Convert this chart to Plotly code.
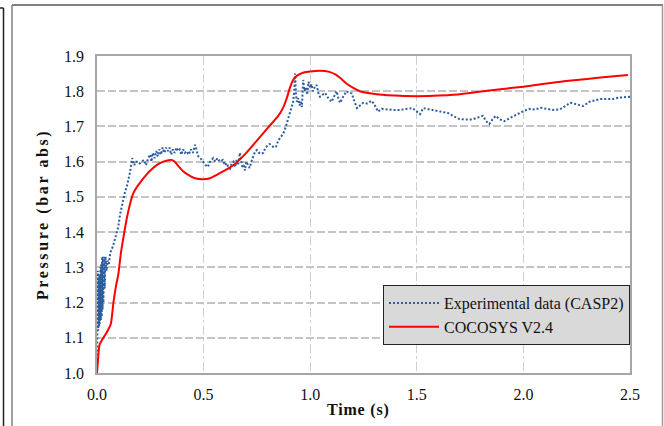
import plotly.graph_objects as go

# Experimental data (CASP2)
exp_t = [0.000, 0.002, 0.004, 0.006, 0.008, 0.010, 0.012, 0.014, 0.016, 0.018, 0.020, 0.022, 0.024, 0.026,
         0.028, 0.030, 0.033, 0.036, 0.040, 0.045, 0.050, 0.056, 0.062, 0.068, 0.075, 0.084, 0.092, 0.100,
         0.108, 0.115, 0.122, 0.130, 0.140, 0.148, 0.155, 0.160, 0.165, 0.170, 0.175, 0.180, 0.190, 0.200,
         0.210, 0.220, 0.230, 0.240, 0.250, 0.255, 0.262, 0.270, 0.278, 0.285, 0.292, 0.300, 0.308, 0.316,
         0.324, 0.332, 0.340, 0.348, 0.356, 0.364, 0.372, 0.380, 0.388, 0.396, 0.404, 0.412, 0.420, 0.430,
         0.440, 0.450, 0.460, 0.468, 0.475, 0.485, 0.497, 0.510, 0.520, 0.530, 0.545, 0.555, 0.565, 0.577,
         0.590, 0.600, 0.608, 0.616, 0.624, 0.632, 0.640, 0.648, 0.655, 0.662, 0.670, 0.676, 0.682, 0.688,
         0.694, 0.700, 0.708, 0.716, 0.724, 0.732, 0.741, 0.750, 0.760, 0.770, 0.780, 0.790, 0.800, 0.810,
         0.820, 0.830, 0.840, 0.850, 0.862, 0.874, 0.886, 0.896, 0.905, 0.913, 0.920, 0.925, 0.929, 0.933,
         0.938, 0.944, 0.950, 0.956, 0.961, 0.967, 0.973, 0.980, 0.986, 0.992, 1.000, 1.006, 1.013, 1.020,
         1.030, 1.040, 1.046, 1.058, 1.070, 1.085, 1.100, 1.112, 1.124, 1.132, 1.140, 1.155, 1.170, 1.182,
         1.195, 1.208, 1.220, 1.235, 1.248, 1.268, 1.288, 1.303, 1.318, 1.335, 1.350, 1.385, 1.420, 1.450,
         1.480, 1.505, 1.515, 1.530, 1.560, 1.590, 1.620, 1.646, 1.670, 1.700, 1.730, 1.760, 1.785, 1.810,
         1.825, 1.840, 1.855, 1.870, 1.890, 1.910, 1.940, 1.980, 2.005, 2.030, 2.055, 2.080, 2.110, 2.140,
         2.170, 2.200, 2.220, 2.250, 2.280, 2.310, 2.340, 2.360, 2.390, 2.420, 2.450, 2.480, 2.500]
exp_p = [1.004, 1.20, 1.29, 1.12, 1.27, 1.13, 1.28, 1.14, 1.30, 1.15, 1.31, 1.16, 1.33, 1.18,
         1.33, 1.20, 1.33, 1.24, 1.33, 1.29, 1.32, 1.31, 1.34, 1.35, 1.36, 1.38, 1.40, 1.415,
         1.45, 1.47, 1.49, 1.51, 1.53, 1.55, 1.57, 1.59, 1.61, 1.60, 1.59, 1.60, 1.60, 1.595,
         1.60, 1.605, 1.59, 1.61, 1.62, 1.60, 1.625, 1.61, 1.63, 1.615, 1.635, 1.62, 1.64, 1.625,
         1.64, 1.63, 1.64, 1.62, 1.635, 1.625, 1.64, 1.63, 1.635, 1.62, 1.635, 1.625, 1.63, 1.62,
         1.635, 1.625, 1.648, 1.63, 1.615, 1.61, 1.60, 1.59, 1.585, 1.60, 1.61, 1.60, 1.61, 1.60,
         1.605, 1.59, 1.596, 1.585, 1.58, 1.595, 1.60, 1.585, 1.605, 1.59, 1.625, 1.60, 1.585, 1.59,
         1.575, 1.60, 1.59, 1.582, 1.60, 1.615, 1.628, 1.633, 1.625, 1.622, 1.625, 1.64, 1.645, 1.65,
         1.645, 1.64, 1.643, 1.66, 1.67, 1.68, 1.70, 1.72, 1.74, 1.756, 1.77, 1.80, 1.85, 1.79,
         1.77, 1.78, 1.76, 1.77, 1.755, 1.832, 1.80, 1.81, 1.79, 1.827, 1.81, 1.82, 1.80, 1.81,
         1.818, 1.79, 1.784, 1.79, 1.795, 1.78, 1.77, 1.785, 1.80, 1.78, 1.767, 1.785, 1.80, 1.795,
         1.794, 1.77, 1.752, 1.76, 1.767, 1.765, 1.773, 1.76, 1.742, 1.75, 1.749, 1.747, 1.747, 1.75,
         1.752, 1.74, 1.735, 1.752, 1.748, 1.745, 1.74, 1.738, 1.73, 1.721, 1.72, 1.72, 1.725, 1.73,
         1.715, 1.707, 1.72, 1.73, 1.72, 1.715, 1.725, 1.738, 1.745, 1.75, 1.748, 1.753, 1.75, 1.747,
         1.748, 1.758, 1.767, 1.763, 1.758, 1.77, 1.775, 1.778, 1.778, 1.778, 1.782, 1.782, 1.784]

# COCOSYS V2.4
sim_t = [0.0, 0.005, 0.012, 0.03, 0.05, 0.065, 0.077, 0.09, 0.1, 0.112, 0.124, 0.14, 0.155, 0.17,
         0.186, 0.21, 0.23, 0.249, 0.28, 0.311, 0.335, 0.35, 0.365, 0.385, 0.405, 0.43, 0.46, 0.499,
         0.53, 0.56, 0.60, 0.65, 0.70, 0.75, 0.80, 0.85, 0.872, 0.89, 0.905, 0.92, 0.94, 0.97, 1.0,
         1.046, 1.09, 1.12, 1.14, 1.17, 1.2, 1.233, 1.28, 1.35, 1.42, 1.5, 1.58, 1.656, 1.75, 1.85,
         2.0, 2.1, 2.2, 2.3, 2.4, 2.49]
sim_p = [1.0, 1.04, 1.08, 1.10, 1.12, 1.14, 1.20, 1.25, 1.28, 1.34, 1.385, 1.44, 1.48, 1.51,
         1.527, 1.547, 1.562, 1.574, 1.59, 1.60, 1.604, 1.605, 1.60, 1.585, 1.572, 1.562, 1.553, 1.55,
         1.553, 1.562, 1.575, 1.595, 1.625, 1.66, 1.695, 1.73, 1.752, 1.78, 1.81, 1.832, 1.845, 1.853, 1.856,
         1.858, 1.855, 1.847, 1.838, 1.822, 1.81, 1.80, 1.794, 1.789, 1.787, 1.786, 1.787, 1.789, 1.795, 1.803,
         1.813, 1.821, 1.829, 1.835, 1.841, 1.846]

x_ticks = [0.0, 0.5, 1.0, 1.5, 2.0, 2.5]
y_ticks = [1.0, 1.1, 1.2, 1.3, 1.4, 1.5, 1.6, 1.7, 1.8, 1.9]

W, H = 664, 426
L, R, T, B = 97, 630, 56, 373


def px(p):
    return (p - L) / (R - L)


def py(p):
    return (B - p) / (B - T)


FONT = "Liberation Serif, Times New Roman, serif"

fig = go.Figure()
fig.add_trace(go.Scatter(x=exp_t, y=exp_p, mode="lines", name="Experimental data (CASP2)",
                         line=dict(color="#2b5c9e", width=2, dash="2px,2px")))
fig.add_trace(go.Scatter(x=sim_t, y=sim_p, mode="lines", name="COCOSYS V2.4",
                         line=dict(color="#ff0000", width=2, shape="spline", smoothing=0.6)))

gray = "#a6a6a6"
fig.update_xaxes(range=[0, 2.5], tickvals=x_ticks, ticktext=[f"{v:.1f}" for v in x_ticks],
                 showgrid=True, gridcolor="#cfcfcf", gridwidth=1, griddash="9px,3px,3px,3px",
                 showline=True, linecolor=gray, linewidth=1.5, mirror=True, zeroline=False,
                 ticks="", tickfont=dict(family=FONT, size=16, color="#111"), ticklabelstandoff=6)
fig.update_yaxes(range=[1.0, 1.9], tickvals=y_ticks, ticktext=[f"{v:.1f}" for v in y_ticks],
                 showgrid=True, gridcolor="#c4c4c4", gridwidth=1.5, griddash="8px,3px",
                 showline=True, linecolor=gray, linewidth=1.5, mirror=True, zeroline=False,
                 ticks="", tickfont=dict(family=FONT, size=16, color="#111"), ticklabelstandoff=8)

shapes = [
    dict(type="line", xref="paper", yref="paper", x0=px(3.5), x1=px(3.5), y0=py(8), y1=py(430),
         line=dict(color="#222", width=1.5)),
    dict(type="line", xref="paper", yref="paper", x0=px(0), x1=px(3.5), y0=py(8), y1=py(8),
         line=dict(color="#222", width=1.5)),
    dict(type="line", xref="paper", yref="paper", x0=px(12), x1=px(12), y0=py(5), y1=py(430),
         line=dict(color="#7f7f7f", width=1.5)),
    dict(type="line", xref="paper", yref="paper", x0=px(12), x1=px(663), y0=py(5), y1=py(5),
         line=dict(color="#7f7f7f", width=2)),
    dict(type="line", xref="paper", yref="paper", x0=px(662.5), x1=px(662.5), y0=py(5), y1=py(430),
         line=dict(color="#9a9a9a", width=1.5)),
]

annotations = [
    dict(xref="paper", yref="paper", x=px(43), y=py(215), text='<span style="letter-spacing:2.6px">Pressure (bar abs)</span>',
         textangle=-90, showarrow=False, xanchor="center", yanchor="middle",
         font=dict(family=FONT, size=16, color="#111", weight="bold")),
    dict(xref="paper", yref="paper", x=px(358), y=py(410), text='<span style="letter-spacing:0.8px">Time (s)</span>',
         showarrow=False, xanchor="center", yanchor="middle",
         font=dict(family=FONT, size=16, color="#111", weight="bold")),
]

fig.update_layout(
    width=W, height=H,
    margin=dict(l=L, r=W - R, t=T, b=H - B),
    paper_bgcolor="white", plot_bgcolor="white",
    font=dict(family=FONT, size=16, color="#111"),
    shapes=shapes, annotations=annotations,
    showlegend=True,
    legend=dict(x=1, y=py(285), xanchor="right", yanchor="top",
                bgcolor="#d9d9d9", bordercolor="#222", borderwidth=1,
                font=dict(family=FONT, size=16, color="#111"),
                itemwidth=50, tracegroupgap=0),
)

fig.write_html("out.html")
